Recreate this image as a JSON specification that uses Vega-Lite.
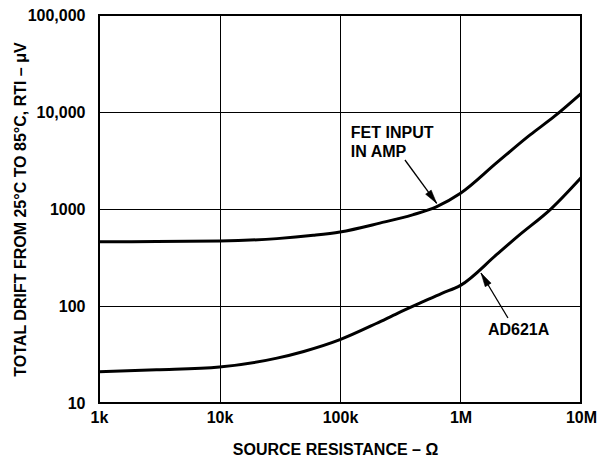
{
  "$schema": "https://vega.github.io/schema/vega-lite/v6.json",
  "width": 482,
  "height": 388,
  "autosize": {"type": "none"},
  "padding": {"left": 99, "top": 15, "right": 24, "bottom": 54},
  "background": "white",
  "config": {
    "view": {"stroke": "black", "strokeWidth": 2},
    "font": "Liberation Sans",
    "axis": {
      "labelFont": "Liberation Sans", "labelFontWeight": "bold", "labelFontSize": 16, "labelColor": "black",
      "titleFont": "Liberation Sans", "titleFontWeight": "bold", "titleFontSize": 16, "titleColor": "black",
      "grid": true, "gridColor": "black", "gridOpacity": 1, "gridWidth": 1,
      "ticks": false, "domain": false
    }
  },
  "datasets": {
    "curves": [
      {"series": "FET", "r": 1000, "drift": 460},
      {"series": "FET", "r": 3000, "drift": 462},
      {"series": "FET", "r": 10000, "drift": 468},
      {"series": "FET", "r": 30000, "drift": 495},
      {"series": "FET", "r": 60000, "drift": 535},
      {"series": "FET", "r": 100000, "drift": 580},
      {"series": "FET", "r": 214000, "drift": 715},
      {"series": "FET", "r": 400000, "drift": 870},
      {"series": "FET", "r": 630000, "drift": 1050},
      {"series": "FET", "r": 1000000, "drift": 1450},
      {"series": "FET", "r": 2000000, "drift": 3000},
      {"series": "FET", "r": 3780000, "drift": 5800},
      {"series": "FET", "r": 6000000, "drift": 9000},
      {"series": "FET", "r": 10000000, "drift": 15500},
      {"series": "AD621A", "r": 1000, "drift": 21},
      {"series": "AD621A", "r": 3000, "drift": 22},
      {"series": "AD621A", "r": 10000, "drift": 23.5},
      {"series": "AD621A", "r": 30000, "drift": 29},
      {"series": "AD621A", "r": 50000, "drift": 34},
      {"series": "AD621A", "r": 100000, "drift": 45},
      {"series": "AD621A", "r": 200000, "drift": 66},
      {"series": "AD621A", "r": 300000, "drift": 84},
      {"series": "AD621A", "r": 500000, "drift": 112},
      {"series": "AD621A", "r": 700000, "drift": 135},
      {"series": "AD621A", "r": 1000000, "drift": 163},
      {"series": "AD621A", "r": 2000000, "drift": 340},
      {"series": "AD621A", "r": 3000000, "drift": 525},
      {"series": "AD621A", "r": 5700000, "drift": 1016},
      {"series": "AD621A", "r": 10000000, "drift": 2100}
    ],
    "arrows": [
      {"id": "fet", "r1": 346000, "d1": 3200, "r2": 634600, "d2": 1145},
      {"id": "ad", "r1": 2477000, "d1": 75.2, "r2": 1479000, "d2": 219}
    ],
    "heads": [
      {"id": "fet", "r": 585700, "drift": 1308},
      {"id": "ad", "r": 1585000, "drift": 189.8}
    ],
    "labels": [
      {"text": "FET INPUT", "r": 123000, "drift": 6070},
      {"text": "IN AMP", "r": 123000, "drift": 3870},
      {"text": "AD621A", "r": 1690000, "drift": 56.6}
    ]
  },
  "layer": [
    {
      "data": {"name": "curves"},
      "mark": {"type": "line", "color": "black", "strokeWidth": 3, "interpolate": "monotone"},
      "encoding": {
        "x": {
          "field": "r", "type": "quantitative",
          "scale": {"type": "log", "domain": [1000, 10000000], "nice": false},
          "axis": {
            "values": [1000, 10000, 100000, 1000000, 10000000],
            "labelExpr": "datum.value == 1000 ? '1k' : datum.value == 10000 ? '10k' : datum.value == 100000 ? '100k' : datum.value == 1000000 ? '1M' : '10M'",
            "labelPadding": 6,
            "labelFlush": false,
            "title": "SOURCE RESISTANCE – Ω",
            "titleX": 236, "titleY": 51, "titleBaseline": "alphabetic", "titleAlign": "center"
          }
        },
        "y": {
          "field": "drift", "type": "quantitative",
          "scale": {"type": "log", "domain": [10, 100000], "nice": false},
          "axis": {
            "values": [10, 100, 1000, 10000, 100000],
            "labelExpr": "datum.value == 10 ? '10' : datum.value == 100 ? '100' : datum.value == 1000 ? '1000' : datum.value == 10000 ? '10,000' : '100,000'",
            "labelPadding": 14,
            "labelFlush": false,
            "title": "TOTAL DRIFT FROM 25°C TO 85°C, RTI – μV",
            "titleX": -79, "titleY": 194, "titleAngle": 270, "titleAlign": "center", "titleBaseline": "middle"
          }
        },
        "detail": {"field": "series"}
      }
    },
    {
      "data": {"name": "arrows"},
      "mark": {"type": "rule", "color": "black", "strokeWidth": 1.3},
      "encoding": {
        "x": {"field": "r1", "type": "quantitative"},
        "y": {"field": "d1", "type": "quantitative"},
        "x2": {"field": "r2"},
        "y2": {"field": "d2"}
      }
    },
    {
      "data": {"name": "heads"},
      "transform": [{"filter": "datum.id == 'fet'"}],
      "mark": {"type": "point", "shape": "M0,-1L0.5,1L-0.5,1Z", "filled": true, "fill": "black", "stroke": "black", "strokeWidth": 0.5, "fillOpacity": 1, "opacity": 1, "size": 190, "angle": 143.5},
      "encoding": {
        "x": {"field": "r", "type": "quantitative"},
        "y": {"field": "drift", "type": "quantitative"}
      }
    },
    {
      "data": {"name": "heads"},
      "transform": [{"filter": "datum.id == 'ad'"}],
      "mark": {"type": "point", "shape": "M0,-1L0.5,1L-0.5,1Z", "filled": true, "fill": "black", "stroke": "black", "strokeWidth": 0.5, "fillOpacity": 1, "opacity": 1, "size": 190, "angle": 329},
      "encoding": {
        "x": {"field": "r", "type": "quantitative"},
        "y": {"field": "drift", "type": "quantitative"}
      }
    },
    {
      "data": {"name": "labels"},
      "mark": {"type": "text", "align": "left", "baseline": "middle", "font": "Liberation Sans", "fontWeight": "bold", "fontSize": 16, "color": "black"},
      "encoding": {
        "x": {"field": "r", "type": "quantitative"},
        "y": {"field": "drift", "type": "quantitative"},
        "text": {"field": "text"}
      }
    }
  ]
}
